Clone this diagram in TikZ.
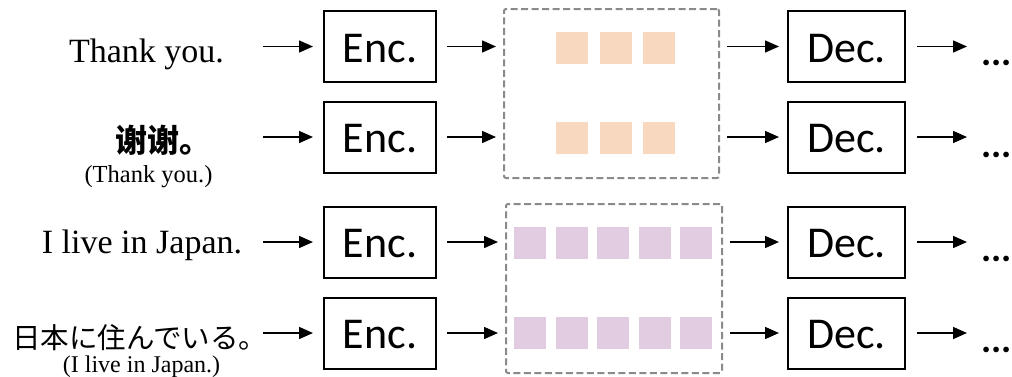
\documentclass[tikz,border=0pt]{standalone}
\usepackage{fontspec}
\setmainfont{Liberation Serif}
\newfontfamily\blockfont{Carlito}
\newfontfamily\zhfont{Noto Sans CJK SC}
\newfontfamily\jafont{Noto Sans CJK JP}
\usetikzlibrary{arrows.meta}
\definecolor{peach}{HTML}{F8D8BF}
\definecolor{lilac}{HTML}{E2CCE2}
\definecolor{dashgray}{HTML}{8A8A8A}
\begin{document}
\begin{tikzpicture}[x=1pt,y=-1pt,
  blk/.style={draw=black,line width=2pt,minimum width=112pt,minimum height=71pt,inner sep=0pt,
    text height=31pt,text depth=0pt,
    font=\blockfont\fontsize{44}{48}\selectfont},
  sent/.style={inner sep=0pt,anchor=base,font=\fontsize{34}{40}\selectfont},
  gloss/.style={inner sep=0pt,anchor=base,font=\fontsize{24.5}{28}\selectfont},
  latent/.style={draw=dashgray,line width=2pt,dash pattern=on 7pt off 3.5pt,rounded corners=2pt},
  tok/.style={minimum size=32pt,inner sep=0pt},
  more/.style={inner sep=0pt,anchor=base west,font=\blockfont\bfseries\fontsize{38}{42}\selectfont},
  flow/.style={line width=1.5pt,-{Triangle[length=14pt,width=12pt]}}]
\useasboundingbox (0,0) rectangle (1012,376);

% source sentences
\node[sent] (s1) at (146.5,62) {Thank you.};
\node[inner sep=0pt,anchor=base west,font=\zhfont\bfseries\fontsize{32}{35}\selectfont] (s2) at (115,152.5) {谢谢。};
\node[gloss] (g2) at (148.5,182) {(Thank you.)};
\node[sent] (s3) at (142,253) {I live in Japan.};
\node[inner sep=0pt,anchor=base west,font=\jafont\fontsize{28.5}{32}\selectfont] (s4) at (12,348) {日本に住んでいる。};
\node[gloss,font=\fontsize{24}{28}\selectfont] (g4) at (141.5,372) {(I live in Japan.)};

% arrow tails on the input side
\coordinate (i1) at (263,46.5);
\coordinate (i2) at (263,137);
\coordinate (i3) at (263,242);
\coordinate (i4) at (263,333);

% encoders
\node[blk] (e1) at (380,46.5) {Enc.};
\node[blk] (e2) at (380,137) {Enc.};
\node[blk] (e3) at (380,242) {Enc.};
\node[blk] (e4) at (380,333) {Enc.};

% shared latent spaces
\node[latent,minimum width=215pt,minimum height=169pt,inner sep=0pt] (L1) at (611.5,93.5) {};
\node[latent,minimum width=216pt,minimum height=169pt,inner sep=0pt] (L2) at (614,288.5) {};

% token vectors
\foreach \x [count=\i] in {572,616,659}{
  \node[tok,fill=peach] (a\i) at (\x,47.5) {};
  \node[tok,fill=peach] (b\i) at (\x,137.5) {};
}
\foreach \x [count=\i] in {530,571.5,613,654.5,696}{
  \node[tok,fill=lilac] (c\i) at (\x,242.5) {};
  \node[tok,fill=lilac] (d\i) at (\x,332.5) {};
}

% decoders
\node[blk,minimum width=117pt] (d1x) at (846.5,46.5) {Dec.};
\node[blk,minimum width=117pt] (d2x) at (846.5,137) {Dec.};
\node[blk,minimum width=117pt] (d3x) at (846.5,242) {Dec.};
\node[blk,minimum width=117pt] (d4x) at (846.5,333) {Dec.};

% continuation marks
\node[more] (m1) at (981,65.5) {...};
\node[more] (m2) at (981,157) {...};
\node[more] (m3) at (981,261) {...};
\node[more] (m4) at (981,352) {...};

% connectors
\foreach \r/\L in {1/L1,2/L1,3/L2,4/L2}{
  \draw[flow,shorten >=10pt] (i\r) -- (e\r);
  \draw[flow,shorten <=10pt,shorten >=7pt] (e\r.east) -- (e\r.east -| \L.west);
  \draw[flow,shorten <=7pt,shorten >=8pt] (d\r x.west -| \L.east) -- (d\r x.west);
  \draw[flow,shorten <=11pt,shorten >=14pt] (d\r x.east) -- (d\r x.east -| m\r.west);
}
\end{tikzpicture}
\end{document}
